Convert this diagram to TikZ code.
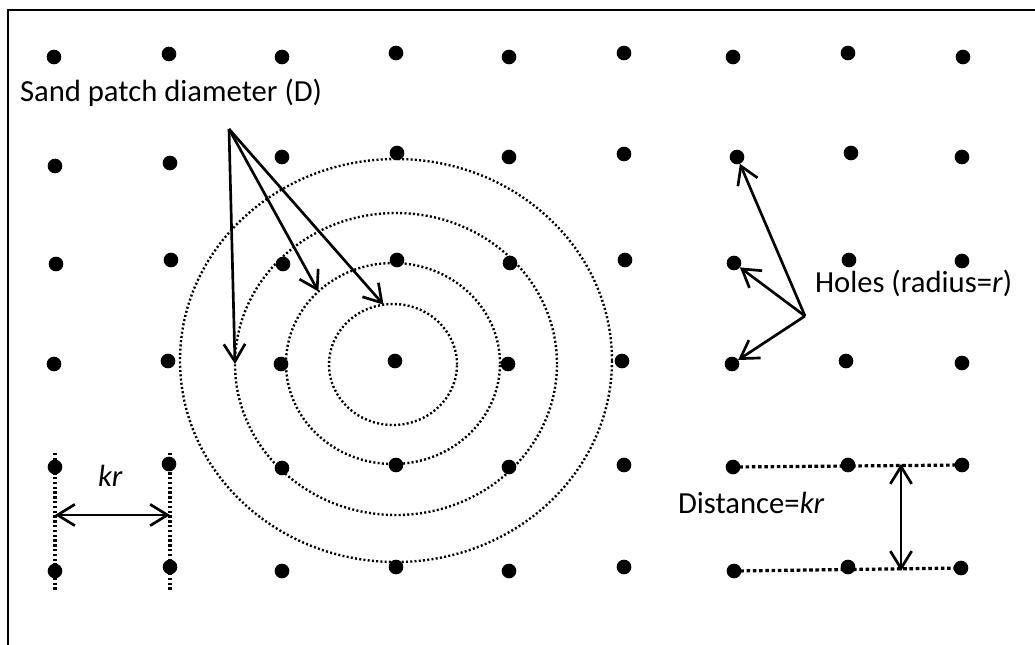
\documentclass[tikz,border=0pt]{standalone}
\usepackage{fontspec}
\setmainfont{Carlito}
\usetikzlibrary{arrows.meta,shapes.geometric}
\begin{document}
\begin{tikzpicture}[x=0.75pt,y=-0.75pt,
  dot/.style={circle,fill=black,inner sep=0pt,minimum size=11pt,outer sep=0pt},
  ring/.style={ellipse,draw=black,line width=1.8pt,dash pattern=on 1.5pt off 1.7pt,inner sep=0pt,outer sep=0pt},
  gridline/.style={line width=2.4pt,dash pattern=on 1.8pt off 1.8pt},
  rowline/.style={line width=2.4pt,dash pattern=on 2.7pt off 2pt},
  arr/.style={line width=2pt,-{Straight Barb[length=13pt,width=16pt,line width=2pt]}},
  darr/.style={line width=2pt,{Straight Barb[length=13pt,width=16pt,line width=2pt]}-{Straight Barb[length=13pt,width=16pt,line width=2pt]}},
  lbl/.style={inner sep=0pt,outer sep=0pt,anchor=base west,font=\fontsize{23pt}{27pt}\selectfont}]
\useasboundingbox (0,0) rectangle (1035,644);
\draw[line width=2pt] (1040,10) -- (8,10) -- (8,650);
% rings (sizes in pt = px * 0.75)
\node[ring,minimum width=324pt,minimum height=302.25pt] (e4) at (396,360.5) {};
\node[ring,minimum width=241.5pt,minimum height=226.5pt] (e3) at (396,364) {};
\node[ring,minimum width=160.5pt,minimum height=150.75pt] (e2) at (393,363.5) {};
\node[ring,minimum width=96pt,minimum height=90.75pt] (e1) at (393,364.5) {};
% dots row 1
\node[dot] (d11) at (54,57) {};
\node[dot] (d12) at (169,54) {};
\node[dot] (d13) at (282,57) {};
\node[dot] (d14) at (396,53) {};
\node[dot] (d15) at (509,57) {};
\node[dot] (d16) at (624,53) {};
\node[dot] (d17) at (733,57) {};
\node[dot] (d18) at (848,53) {};
\node[dot] (d19) at (963,57) {};
% row 2
\node[dot] (d21) at (55,166) {};
\node[dot] (d22) at (170,163) {};
\node[dot] (d23) at (282,157) {};
\node[dot] (d24) at (397,153) {};
\node[dot] (d25) at (509,157) {};
\node[dot] (d26) at (624,154) {};
\node[dot] (d27) at (737,157) {};
\node[dot] (d28) at (851,153) {};
\node[dot] (d29) at (962,157) {};
% row 3
\node[dot] (d31) at (56,264) {};
\node[dot] (d32) at (171,260) {};
\node[dot] (d33) at (283,264) {};
\node[dot] (d34) at (397,260) {};
\node[dot] (d35) at (510,263) {};
\node[dot] (d36) at (625,260) {};
\node[dot] (d37) at (734,263) {};
\node[dot] (d38) at (849,260) {};
\node[dot] (d39) at (962,261) {};
% row 4
\node[dot] (d41) at (54,364) {};
\node[dot] (d42) at (168,361) {};
\node[dot] (d43) at (281,364) {};
\node[dot] (d44) at (395,361) {};
\node[dot] (d45) at (508,364) {};
\node[dot] (d46) at (622,361) {};
\node[dot] (d47) at (732,364) {};
\node[dot] (d48) at (846,361) {};
\node[dot] (d49) at (962,363) {};
% row 5
\node[dot] (d51) at (55,467) {};
\node[dot] (d52) at (169,464) {};
\node[dot] (d53) at (282,468) {};
\node[dot] (d54) at (396,465) {};
\node[dot] (d55) at (509,467) {};
\node[dot] (d56) at (624,465) {};
\node[dot] (d57) at (733,467) {};
\node[dot] (d58) at (848,465) {};
\node[dot] (d59) at (962,465) {};
% row 6
\node[dot] (d61) at (55,571) {};
\node[dot] (d62) at (170,567) {};
\node[dot] (d63) at (282,571) {};
\node[dot] (d64) at (396,567) {};
\node[dot] (d65) at (509,571) {};
\node[dot] (d66) at (624,567) {};
\node[dot] (d67) at (734,571) {};
\node[dot] (d68) at (848,567) {};
\node[dot] (d69) at (961,568) {};
% labels
\node[lbl] (sand) at (20,101) {Sand patch diameter (D)};
\node[lbl] (holes) at (815,292) {Holes (radius=\textit{r})};
\node[lbl] (dist) at (678,513) {Distance=\textit{kr}};
\node[lbl] (krl) at (98,486) {\textit{kr}};
% sand patch arrows
\coordinate (sp) at (229,129);
\draw[arr] (sp) -- (e3.west);
\draw[arr] (sp) -- (e2.136);
\draw[arr] (sp) -- (e1.99);
% hole arrows
\coordinate (hp) at (805,316);
\draw[arr] (hp) -- (d27);
\draw[arr] (hp) -- (d37);
\draw[arr] (hp) -- (d47);
% kr spacing
\coordinate (v1t) at (55,453);
\coordinate (v1b) at (55,590);
\coordinate (v2t) at (170,453);
\coordinate (v2b) at (170,590);
\draw[gridline] (v1t) -- (v1b);
\draw[gridline] (v2t) -- (v2b);
\coordinate (ka) at (55,515);
\coordinate (kb) at (170,515);
\draw[darr] (ka) -- (kb);
% distance rows
\draw[rowline] (d57.center) -- (d59.center);
\draw[rowline] (d67.center) -- (d69.center);
\coordinate (da) at (901,464);
\coordinate (db) at (901,571);
\draw[darr] (da) -- (db);
\end{tikzpicture}
\end{document}
